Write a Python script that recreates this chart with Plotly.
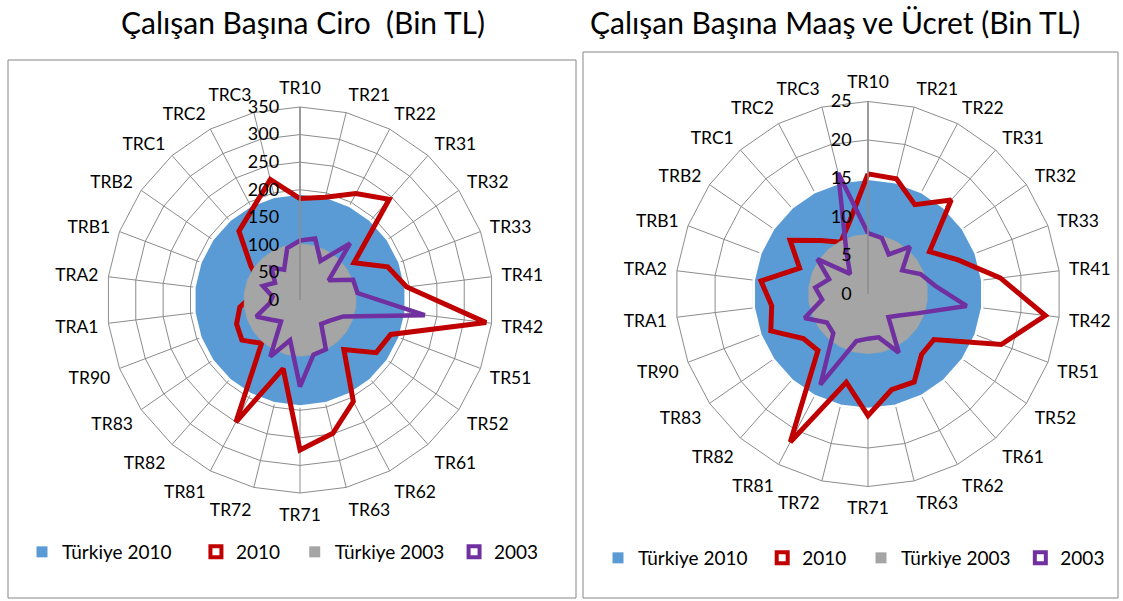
import plotly.graph_objects as go

categories = ["TR10", "TR21", "TR22", "TR31", "TR32", "TR33", "TR41", "TR42", "TR51", "TR52",
              "TR61", "TR62", "TR63", "TR71", "TR72", "TR81", "TR82", "TR83", "TR90", "TRA1",
              "TRA2", "TRB1", "TRB2", "TRC1", "TRC2", "TRC3"]

# Çalışan Başına Ciro (Bin TL)
ciro_ticks = [0, 50, 100, 150, 200, 250, 300, 350]
ciro_turkiye_2010 = 193
ciro_2010 = [184, 192, 218, 244, 119, 170, 195, 340, 176, 168, 120, 208, 249, 272, 128, 250,
             105, 128, 123, 110, 85, 75, 108, 167, 186, 225]
ciro_turkiye_2003 = 102
ciro_2003 = [108, 115, 80, 137, 63, 103, 105, 228, 84, 66, 58, 101, 102, 157, 75, 116,
             52, 63, 85, 56, 50, 72, 55, 78, 62, 97]

# Çalışan Başına Maaş ve Ücret (Bin TL)
maas_ticks = [0, 5, 10, 15, 20, 25]
maas_turkiye_2010 = 14.95
maas_2010 = [15.6, 15.4, 13.1, 16.3, 9.7, 12.5, 17.3, 23.2, 18.5, 10.4, 10.5, 12.9, 12.8, 15.8,
             11.8, 21.7, 9.8, 10.2, 13.5, 12.6, 14.0, 9.5, 12.3, 9.3, 7.6, 9.8]
maas_turkiye_2003 = 7.75
maas_2003 = [7.9, 7.5, 5.8, 8.2, 5.4, 7.3, 8.8, 12.9, 7.0, 4.9, 4.0, 8.6, 5.8, 5.8, 6.3, 13.3,
             6.8, 6.5, 8.8, 6.0, 6.9, 5.4, 8.0, 3.5, 6.0, 16.2]

series_names = ["Türkiye 2010", "2010", "Türkiye 2003", "2003"]
titles = ["Çalışan Başına Ciro  (Bin TL)", "Çalışan Başına Maaş ve Ücret (Bin TL)"]

BLUE = "#5B9BD5"
RED = "#C00000"
GRAY = "#A5A5A5"
PURPLE = "#7030A0"
GRID = "#8C8C8C"
FONT = "Lato"
NB = "\u00a0"

W, H = 1123, 601
fig = go.Figure()


def closed(vals):
    return list(vals) + [vals[0]]


theta = closed(categories)


def add_chart(subplot, legend, tr2010, v2010, tr2003, v2003, pads):
    fig.add_trace(go.Scatterpolar(r=[tr2010] * len(theta), theta=theta, subplot=subplot,
                                  fill="toself", fillcolor=BLUE, mode="lines",
                                  line=dict(color="white", width=2.5),
                                  showlegend=False, hoverinfo="skip"))
    fig.add_trace(go.Scatterpolar(r=closed(v2010), theta=theta, subplot=subplot, mode="lines",
                                  line=dict(color=RED, width=5, shape="linear"),
                                  showlegend=False))
    fig.add_trace(go.Scatterpolar(r=[tr2003] * len(theta), theta=theta, subplot=subplot,
                                  fill="toself", fillcolor=GRAY, mode="lines",
                                  line=dict(color=GRAY, width=0.5),
                                  showlegend=False, hoverinfo="skip"))
    fig.add_trace(go.Scatterpolar(r=closed(v2003), theta=theta, subplot=subplot, mode="lines",
                                  line=dict(color=PURPLE, width=4.5),
                                  showlegend=False))
    # legend entries
    styles = [dict(symbol="square", size=11, color=BLUE),
              dict(symbol="square-open", size=11, color=RED, line=dict(width=4, color=RED)),
              dict(symbol="square", size=11, color=GRAY),
              dict(symbol="square-open", size=11, color=PURPLE, line=dict(width=4, color=PURPLE))]
    for name, st, pad in zip(series_names, styles, pads):
        fig.add_trace(go.Scatterpolar(r=[None], theta=[categories[0]], subplot=subplot,
                                      mode="markers", marker=st, name=name + NB * pad,
                                      legend=legend, showlegend=True))


add_chart("polar", "legend", ciro_turkiye_2010, ciro_2010, ciro_turkiye_2003, ciro_2003,
          [4, 2, 1, 0])
add_chart("polar2", "legend2", maas_turkiye_2010, maas_2010, maas_turkiye_2003, maas_2003,
          [2, 2, 1, 0])


def px_dom(cx, cy, rad):
    return dict(x=[(cx - rad) / W, (cx + rad) / W], y=[1 - (cy + rad) / H, 1 - (cy - rad) / H])


def polar_layout(dom, ticks, npad):
    return dict(
        domain=dom,
        bgcolor="white",
        gridshape="linear",
        angularaxis=dict(type="category", direction="clockwise", rotation=90,
                         categoryarray=categories, categoryorder="array",
                         showgrid=True, gridcolor=GRID, gridwidth=1,
                         showline=True, linecolor=GRID, linewidth=1,
                         ticks="outside", ticklen=6, tickcolor="rgba(0,0,0,0)",
                         tickfont=dict(family=FONT, size=17.5, color="black")),
        radialaxis=dict(range=[ticks[0], ticks[-1]], tickvals=ticks,
                        ticktext=[str(v) + NB * npad for v in ticks],
                        angle=90, tickangle=90,
                        side="counterclockwise", showgrid=True, gridcolor=GRID, gridwidth=1,
                        showline=True, linecolor=GRID, linewidth=1.5, ticks="",
                        tickfont=dict(family=FONT, size=18, color="black"),
                        layer="above traces"),
    )


legend_common = dict(orientation="h", font=dict(family=FONT, size=19, color="black"),
                     bgcolor="rgba(0,0,0,0)", itemclick=False, itemdoubleclick=False,
                     yanchor="middle", xanchor="left", traceorder="normal")

fig.update_layout(
    width=W, height=H,
    margin=dict(l=0, r=0, t=0, b=0),
    paper_bgcolor="white",
    font=dict(family=FONT, color="black"),
    polar=polar_layout(px_dom(300, 300, 193), ciro_ticks, 3),
    polar2=polar_layout(px_dom(868, 294, 192.5), maas_ticks, 2),
    legend=dict(x=22 / W, y=1 - 552 / H, **legend_common),
    legend2=dict(x=598 / W, y=1 - 558 / H, **legend_common),
    shapes=[
        dict(type="rect", xref="paper", yref="paper", x0=8 / W, x1=576 / W,
             y0=1 - 598 / H, y1=1 - 60 / H, line=dict(color="#868686", width=1)),
        dict(type="rect", xref="paper", yref="paper", x0=583 / W, x1=1118 / W,
             y0=1 - 598 / H, y1=1 - 52 / H, line=dict(color="#868686", width=1)),
    ],
    annotations=[
        dict(text=titles[0], x=303 / W, y=1 - 22 / H, xref="paper", yref="paper",
             xanchor="center", yanchor="middle",
             showarrow=False, font=dict(family=FONT, size=30, color="black")),
        dict(text=titles[1], x=835 / W, y=1 - 22 / H, xref="paper", yref="paper",
             xanchor="center", yanchor="middle",
             showarrow=False, font=dict(family=FONT, size=30, color="black")),
    ],
)

fig.write_html("out.html", config={"displayModeBar": False},
               post_script="document.body.style.margin='0';")
